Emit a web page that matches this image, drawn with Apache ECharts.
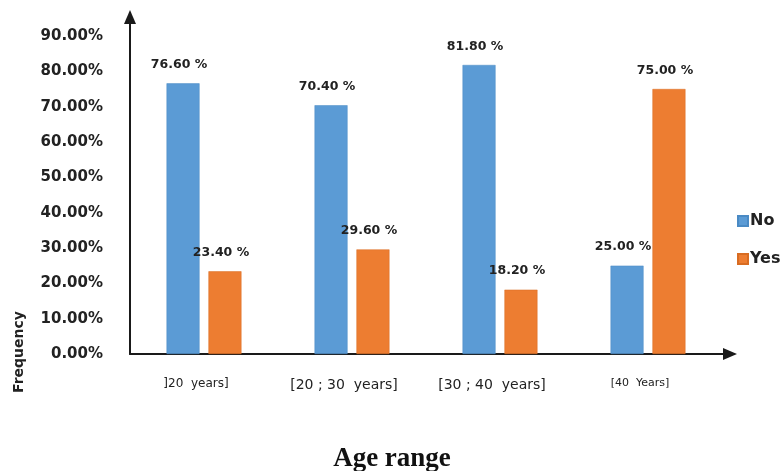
<!DOCTYPE html>
<html>
<head>
<meta charset="utf-8">
<script src="https://cdn.jsdelivr.net/npm/echarts@6/dist/echarts.min.js"></script>
<style>
  html, body { margin: 0; padding: 0; background: #fff; }
  #chart { width: 784px; height: 471px; }
</style>
</head>
<body>
<div id="chart"></div>
<script>
// Age groups and the share of answers per group
const categories = [']20  years]', '[20 ; 30  years]', '[30 ; 40  years]', '[40  Years]'];
const noValues = [76.6, 70.4, 81.8, 25.0];
const yesValues = [23.4, 29.6, 18.2, 75.0];
const seriesNames = ['No', 'Yes'];
const yTicks = { min: 0, max: 90, step: 10 };

// category labels use slightly different sizes
const catSizes = [12, 14, 14, 11];

const chart = echarts.init(document.getElementById('chart'), null, { renderer: 'canvas' });

const valueLabel = {
  show: true,
  position: 'top',
  distance: 12,
  offset: [-4, 0],
  fontFamily: 'DejaVu Sans',
  fontWeight: 'bold',
  fontSize: 12.5,
  color: '#222',
  formatter: p => p.value.toFixed(2) + ' %'
};

const richCats = {};
catSizes.forEach((s, i) => {
  richCats['c' + i] = { fontSize: s, fontFamily: 'DejaVu Sans', color: '#222' };
});

chart.setOption({
  animation: false,
  backgroundColor: '#ffffff',
  title: {
    text: 'Age range',
    left: 'center',
    top: 446,
    padding: [0, 0, 0, 6],
    textStyle: {
      fontFamily: 'Liberation Serif',
      fontWeight: 'bold',
      fontSize: 27,
      color: '#111'
    }
  },
  legend: {
    orient: 'vertical',
    left: 737,
    top: 213,
    padding: 0,
    itemWidth: 10,
    itemHeight: 10,
    itemGap: 22,
    icon: 'rect',
    data: seriesNames,
    textStyle: {
      fontFamily: 'DejaVu Sans',
      fontSize: 16,
      fontWeight: 'bold',
      color: '#222',
      padding: [0, 0, 12, -3]
    }
  },
  graphic: [{
    type: 'text',
    x: 19,
    y: 352,
    rotation: Math.PI / 2,
    style: {
      text: 'Frequency',
      fontFamily: 'DejaVu Sans',
      fontWeight: 'bold',
      fontSize: 14,
      fill: '#222',
      align: 'center',
      verticalAlign: 'middle'
    }
  }],
  grid: [
    // plotting area for the bars
    { left: 130, right: 62, top: 36, bottom: 117 },
    // axis frame with arrow heads reaching past the plot
    { left: 130, right: 54, top: 17, bottom: 117 }
  ],
  xAxis: [{
    type: 'category',
    gridIndex: 0,
    data: categories,
    axisLine: { show: false },
    axisTick: { show: false },
    axisLabel: {
      margin: 24,
      padding: [0, 16, 0, 0],
      formatter: (v, i) => '{c' + i + '|' + v + '}',
      rich: richCats
    }
  }, {
    type: 'value',
    gridIndex: 1,
    axisLine: {
      show: true,
      symbol: ['none', 'triangle'],
      symbolSize: [12, 14],
      lineStyle: { color: '#1a1a1a', width: 2 }
    },
    axisTick: { show: false },
    axisLabel: { show: false },
    splitLine: { show: false }
  }],
  yAxis: [{
    type: 'value',
    gridIndex: 0,
    min: yTicks.min,
    max: yTicks.max,
    interval: yTicks.step,
    axisLine: { show: false },
    axisTick: { show: false },
    splitLine: { show: false },
    axisLabel: {
      margin: 27,
      fontFamily: 'DejaVu Sans',
      fontWeight: 'bold',
      fontSize: 15,
      color: '#222',
      formatter: v => v.toFixed(2) + '%'
    }
  }, {
    type: 'value',
    gridIndex: 1,
    axisLine: {
      show: true,
      onZero: false,
      symbol: ['none', 'triangle'],
      symbolSize: [12, 14],
      lineStyle: { color: '#1a1a1a', width: 2 }
    },
    axisTick: { show: false },
    axisLabel: { show: false },
    splitLine: { show: false }
  }],
  series: [{
    name: seriesNames[0],
    type: 'bar',
    xAxisIndex: 0,
    yAxisIndex: 0,
    data: noValues,
    barWidth: 33,
    barGap: '27%',
    itemStyle: { color: '#5B9BD5', borderColor: '#4a8ac4', borderWidth: 0.5 },
    label: valueLabel
  }, {
    name: seriesNames[1],
    type: 'bar',
    xAxisIndex: 0,
    yAxisIndex: 0,
    data: yesValues,
    barWidth: 33,
    itemStyle: { color: '#ED7D31', borderColor: '#d86c22', borderWidth: 0.5 },
    label: valueLabel
  }]
});
</script>
</body>
</html>
